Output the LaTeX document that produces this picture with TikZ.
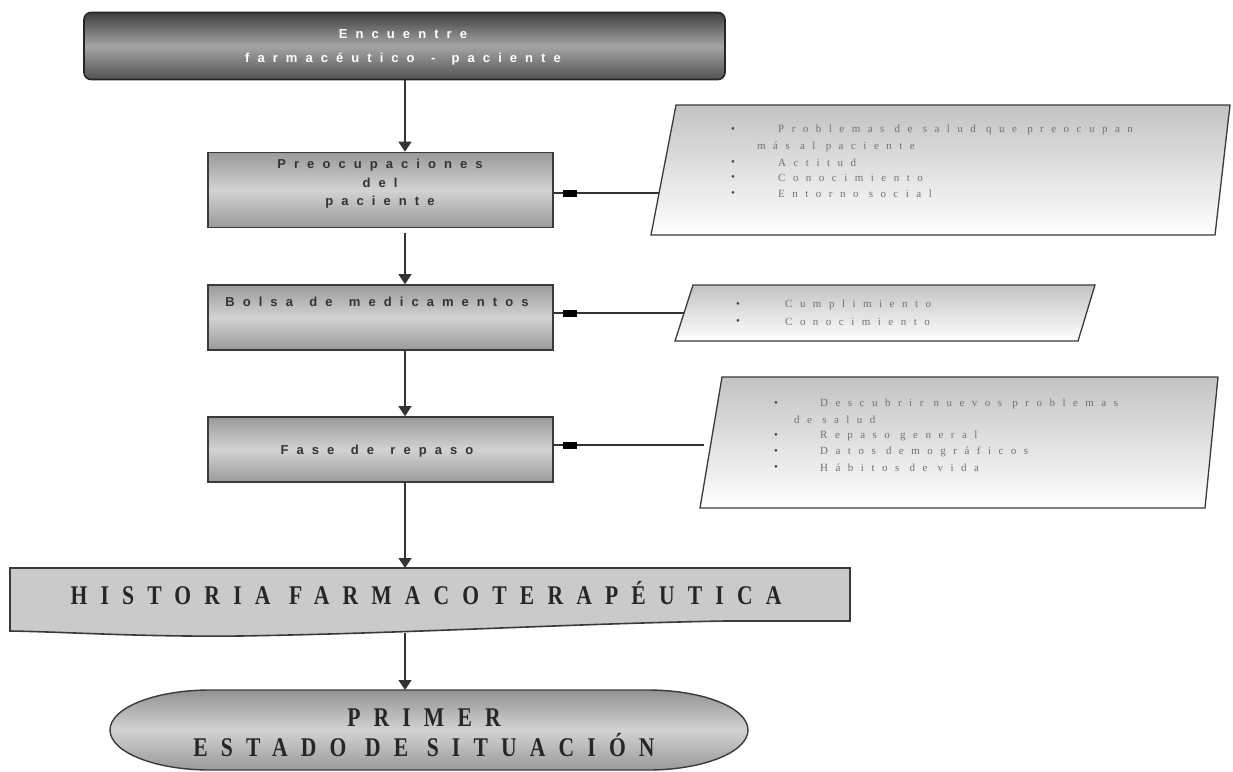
\documentclass[tikz,border=0pt]{standalone}
\usepackage{fontspec}
\usetikzlibrary{arrows.meta,calc}
\setmainfont{Liberation Serif}
\newfontfamily\stepfont[LetterSpace=62,WordSpace=1.4]{Liberation Sans}
\newfontfamily\listfont[LetterSpace=68]{Liberation Serif}
\newfontfamily\titlefont[LetterSpace=61]{Liberation Serif}

\definecolor{edge}{HTML}{3A3A3A}
\definecolor{linec}{HTML}{333333}
\definecolor{topdark}{HTML}{3E3E40}
\definecolor{topmid}{HTML}{A4A5A7}
\definecolor{boxgray}{HTML}{9A9A9C}
\definecolor{boxlight}{HTML}{D2D2D4}
\definecolor{paneltop}{HTML}{C2C3C5}
\definecolor{paneltext}{HTML}{727272}
\definecolor{bulletc}{HTML}{444444}
\definecolor{histfill}{HTML}{C9CACC}
\definecolor{boxtext}{HTML}{333333}

\begin{document}
\begin{tikzpicture}[x=1pt,y=-1pt,
  arr/.style={draw=linec, line width=1.3pt, -{Triangle[width=13pt,length=10pt]}},
  link/.style={draw=linec, line width=1.1pt},
  startbox/.style={draw=black!85, line width=1.6pt, rounded corners=7pt,
    top color=topdark, bottom color=topdark!90!white, middle color=topmid,
    minimum width=641pt, minimum height=67pt, inner sep=0pt},
  stepbox/.style={draw=edge, line width=1.6pt,
    top color=boxgray, bottom color=boxgray, middle color=boxlight,
    minimum width=345pt, inner sep=0pt},
  panel/.style={draw=edge, line width=1.3pt, top color=paneltop, bottom color=white},
  histbox/.style={draw=edge, line width=1.6pt, fill=histfill},
  endbox/.style={draw=edge, line width=1.4pt,
    top color=boxgray!95!black, bottom color=boxgray, middle color=boxlight},
  whitetext/.style={text=white, font=\stepfont\bfseries\fontsize{13}{15}\selectfont, inner sep=0pt},
  steptext/.style={text=boxtext, font=\stepfont\bfseries\fontsize{13}{15}\selectfont, inner sep=0pt},
  listtext/.style={text=paneltext, font=\listfont\fontsize{11}{13}\selectfont, inner sep=0pt, anchor=west},
  bullettext/.style={listtext, text=bulletc},
  titletext/.style={text=black!85, font=\titlefont\bfseries\fontsize{27}{30}\selectfont, inner sep=0pt},
  blob/.style={fill=black}
]
\useasboundingbox (0,0) rectangle (1233,771);

% column of the main arrows
\coordinate (col) at (405,0);

% ---- main boxes ----
\node[startbox] (start) at (404.5,46) {};
\node[whitetext] (startA) at (403,34) {Encuentre};
\node[whitetext] (startB) at (403,59) {farmacéutico - paciente};

\node[stepbox, minimum height=75pt] (worries) at (380.5,190) {};
\node[steptext] (worriesA) at (380,165) {Preocupaciones};
\node[steptext] (worriesB) at (380,183) {del};
\node[steptext] (worriesC) at (380,202) {paciente};

\node[stepbox, minimum height=65pt] (bag) at (380.5,317.5) {};
\node[steptext] (bagA) at (377,302) {Bolsa de medicamentos};

\node[stepbox, minimum height=65pt] (review) at (380.5,449.5) {};
\node[steptext] (reviewA) at (377,451) {Fase de repaso};

% ---- pharmacotherapy history (document shape) ----
\path[histbox] (10,568) -- (850,568) -- (850,621) -- (725,621)
  .. controls (560,624) and (420,633) .. (240,636)
  .. controls (140,637) and (70,632) .. (10,631) -- cycle;
\coordinate (histtop) at (405,568);
\coordinate (histbot) at (405,633);
\node[titletext] (hist) at (426,593) {\scalebox{0.8}[1]{HISTORIA FARMACOTERAPÉUTICA}};

% ---- first situation state (terminator) ----
\path[endbox] (210,690) -- (648,690)
  arc[start angle=-90, end angle=90, x radius=100, y radius=40]
  -- (210,770)
  arc[start angle=90, end angle=270, x radius=100, y radius=40] -- cycle;
\coordinate (primtop) at (405,690);
\node[titletext] (primA) at (424,718) {\scalebox{0.8}[1]{PRIMER}};
\node[titletext] (primB) at (424,745) {\scalebox{0.8}[1]{ESTADO DE SITUACIÓN}};

% ---- side panels ----
\path[panel] (676,105) -- (1230,105) -- (1215,235) -- (651,235) -- cycle;
\coordinate (p1) at (659,193);
\node[bullettext] (p1b1) at (731,130) {•};
\node[listtext] (p1t1) at (778,130) {Problemas de salud que preocupan};
\node[listtext] (p1t2) at (757,147) {más al paciente};
\node[bullettext] (p1b2) at (731,163) {•};
\node[listtext] (p1t3) at (778,163) {Actitud};
\node[bullettext] (p1b3) at (731,178) {•};
\node[listtext] (p1t4) at (778,178) {Conocimiento};
\node[bullettext] (p1b4) at (731,194) {•};
\node[listtext] (p1t5) at (778,194) {Entorno social};

\path[panel] (693,285) -- (1095,285) -- (1078,341) -- (675,341) -- cycle;
\coordinate (p2) at (684,313);
\node[bullettext] (p2b1) at (736,305) {•};
\node[listtext] (p2t1) at (785,305) {Cumplimiento};
\node[bullettext] (p2b2) at (736,322) {•};
\node[listtext] (p2t2) at (785,322) {Conocimiento};

\path[panel] (722,377) -- (1218,377) -- (1205,508) -- (700,508) -- cycle;
\coordinate (p3) at (704,445);
\node[bullettext] (p3b1) at (774,404) {•};
\node[listtext] (p3t1) at (820,404) {Descubrir nuevos problemas};
\node[listtext] (p3t2) at (794,420) {de salud};
\node[bullettext] (p3b2) at (774,436) {•};
\node[listtext] (p3t3) at (820,436) {Repaso general};
\node[bullettext] (p3b3) at (774,452) {•};
\node[listtext] (p3t4) at (820,452) {Datos demográficos};
\node[bullettext] (p3b4) at (774,468) {•};
\node[listtext] (p3t5) at (820,468) {Hábitos de vida};

% ---- main flow ----
\draw[arr] (start.south -| col) -- (worries.north -| col);
\draw[arr, shorten <=5pt] (worries.south -| col) -- (bag.north -| col);
\draw[arr] (bag.south -| col) -- (review.north -| col);
\draw[arr] (review.south -| col) -- (histtop);
\draw[arr] (histbot) -- (primtop);

% ---- links from the panels ----
\draw[link] (p1) -- (worries.east |- p1);
\fill[blob] ($(worries.east |- p1)+(9,-3.5)$) rectangle ++(14,7);
\draw[link] (p2) -- (bag.east |- p2);
\fill[blob] ($(bag.east |- p2)+(9,-3.5)$) rectangle ++(14,7);
\draw[link] (p3) -- (review.east |- p3);
\fill[blob] ($(review.east |- p3)+(9,-3.5)$) rectangle ++(14,7);
\end{tikzpicture}
\end{document}
